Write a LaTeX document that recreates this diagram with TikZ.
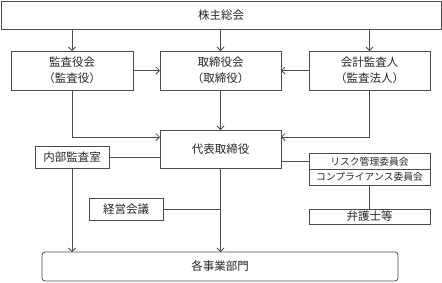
\documentclass[tikz,border=0pt]{standalone}
\usepackage{fontspec}
\setmainfont{Noto Sans CJK JP}
\usetikzlibrary{arrows.meta,calc}
\begin{document}
\begin{tikzpicture}[x=1pt,y=-1pt,
  box/.style={draw=black!70,line width=0.8pt,inner sep=0pt,outer sep=0pt,align=center,
    font=\fontsize{11.5}{16}\selectfont,text=black!85},
  smallbox/.style={box,font=\fontsize{9.8}{12}\selectfont},
  conn/.style={draw=black!70,line width=0.8pt},
  arr/.style={conn,-{Straight Barb[length=3.5pt,width=7pt]}}]
\useasboundingbox (0,0) rectangle (442,282);
\node[box,minimum width=440pt,minimum height=28pt] (top) at (221,15) {株主総会};
\node[box,minimum width=122pt,minimum height=39pt] (kansa) at (72,70.5) {監査役会\\（監査役）};
\node[box,minimum width=121pt,minimum height=39pt] (tori) at (220.5,70.5) {取締役会\\（取締役）};
\node[box,minimum width=121pt,minimum height=39pt] (kaikei) at (369.5,70.5) {会計監査人\\（監査法人）};
\node[box,minimum width=121pt,minimum height=38pt] (daihyo) at (220.5,149) {代表取締役};
\node[box,minimum width=74pt,minimum height=22pt] (naibu) at (72,157) {内部監査室};
\node[smallbox,minimum width=121pt,minimum height=15.5pt] (risk) at (369.5,161.5) {リスク管理委員会};
\node[smallbox,minimum width=121pt,minimum height=16pt] (comp) at (369.5,177) {コンプライアンス委員会};
\node[box,minimum width=121pt,minimum height=15pt] (bengo) at (369.5,216.5) {弁護士等};
\node[box,minimum width=74pt,minimum height=22pt] (keiei) at (126,209) {経営会議};
\node[box,rounded corners=3pt,minimum width=356pt,minimum height=29pt] (kaku) at (220,266.5) {各事業部門};
% arrows from top
\draw[arr] (kansa.north |- top.south) -- (kansa.north);
\draw[arr] (tori.north |- top.south) -- (tori.north);
\draw[arr] (kaikei.north |- top.south) -- (kaikei.north);
% horizontal
\draw[arr] (kansa.east) -- (tori.west);
\draw[arr] (kaikei.west) -- (tori.east);
% to daihyo
\draw[arr] (tori.south) -- (daihyo.north);
\draw[arr] (kansa.south) |- ([yshift=12pt]daihyo.west);
\draw[arr] (kaikei.south) |- ([yshift=12pt]daihyo.east);
% lines
\draw[conn] (naibu.east) -- (naibu.east -| daihyo.west);
\draw[conn] (risk.west -| daihyo.east) -- (risk.west);
\draw[conn] (comp.south) -- (bengo.north);
\draw[conn] (keiei.east) -- (keiei.east -| daihyo.south);
% to kaku
\draw[arr] (naibu.south) -- (naibu.south |- kaku.north);
\draw[arr] (daihyo.south) -- (daihyo.south |- kaku.north);
\end{tikzpicture}
\end{document}
